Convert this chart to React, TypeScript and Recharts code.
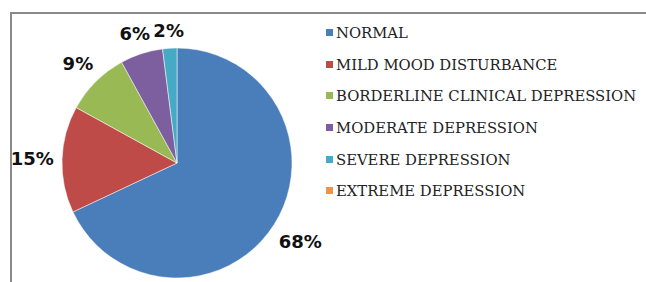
import { Cell, Legend, Pie, PieChart } from "recharts";

const categories = [
  "NORMAL",
  "MILD MOOD DISTURBANCE",
  "BORDERLINE CLINICAL DEPRESSION",
  "MODERATE DEPRESSION",
  "SEVERE DEPRESSION",
  "EXTREME DEPRESSION",
];
const shares = [68, 15, 9, 6, 2, 0];
const colors = ["#4A7EBB", "#BE4B48", "#98B954", "#7D5FA0", "#46AAC5", "#F69240"];

const data = categories.map((name, i) => ({ name, value: shares[i] }));

const RAD = Math.PI / 180;
const LABEL_SIZE = 18;

function renderLabel(props: any) {
  const { cx, cy, midAngle, outerRadius, value } = props;
  if (!value) return null;
  const text = `${value}%`;
  // rough box of the bold label, so it sits just outside the rim
  const w = ((text.length - 1) * 0.696 + 1.0) * LABEL_SIZE;
  const h = LABEL_SIZE;
  const c = Math.cos(-midAngle * RAD);
  const s = Math.sin(-midAngle * RAD);
  const r = outerRadius + 8 + Math.abs(c) * (w / 2) + Math.abs(s) * (h / 2);
  return (
    <text
      x={cx + r * c}
      y={cy + r * s}
      textAnchor="middle"
      dominantBaseline="central"
      fontFamily="'DejaVu Sans', Verdana, sans-serif"
      fontWeight="bold"
      fontSize={LABEL_SIZE}
      fill="#111"
    >
      {text}
    </text>
  );
}

function LegendList() {
  return (
    <div style={{ fontFamily: "'DejaVu Serif', serif", fontSize: 14.8, color: "#222" }}>
      {data.map((d, i) => (
        <div key={d.name} style={{ display: "flex", alignItems: "center", height: 31.6 }}>
          <span
            style={{
              display: "inline-block",
              width: 7,
              height: 7,
              background: colors[i],
              marginRight: 3,
            }}
          />
          <span>{d.name}</span>
        </div>
      ))}
    </div>
  );
}

export default function App() {
  return (
    <div
      style={{
        position: "absolute",
        left: 0,
        top: 0,
        width: 646,
        height: 282,
        background: "#fff",
        overflow: "hidden",
      }}
    >
      <div
        style={{
          position: "absolute",
          left: 10,
          top: 12,
          width: 660,
          height: 300,
          borderTop: "2px solid #8a8a8a",
          borderLeft: "2px solid #8a8a8a",
        }}
      />
      <div style={{ position: "absolute", left: 0, top: 0 }}>
        <PieChart width={646} height={282} margin={{ top: 0, right: 0, bottom: 0, left: 0 }}>
          <Pie
            data={data}
            dataKey="value"
            nameKey="name"
            cx={177}
            cy={163}
            outerRadius={115}
            startAngle={90}
            endAngle={-270}
            stroke="#ffffff"
            strokeWidth={0.5}
            labelLine={false}
            label={renderLabel}
            isAnimationActive={false}
          >
            {data.map((d, i) => (
              <Cell key={d.name} fill={colors[i]} />
            ))}
          </Pie>
          <Legend
            layout="vertical"
            align="right"
            verticalAlign="top"
            content={() => <LegendList />}
            wrapperStyle={{ left: 326, top: 17, width: 320 }}
          />
        </PieChart>
      </div>
    </div>
  );
}
